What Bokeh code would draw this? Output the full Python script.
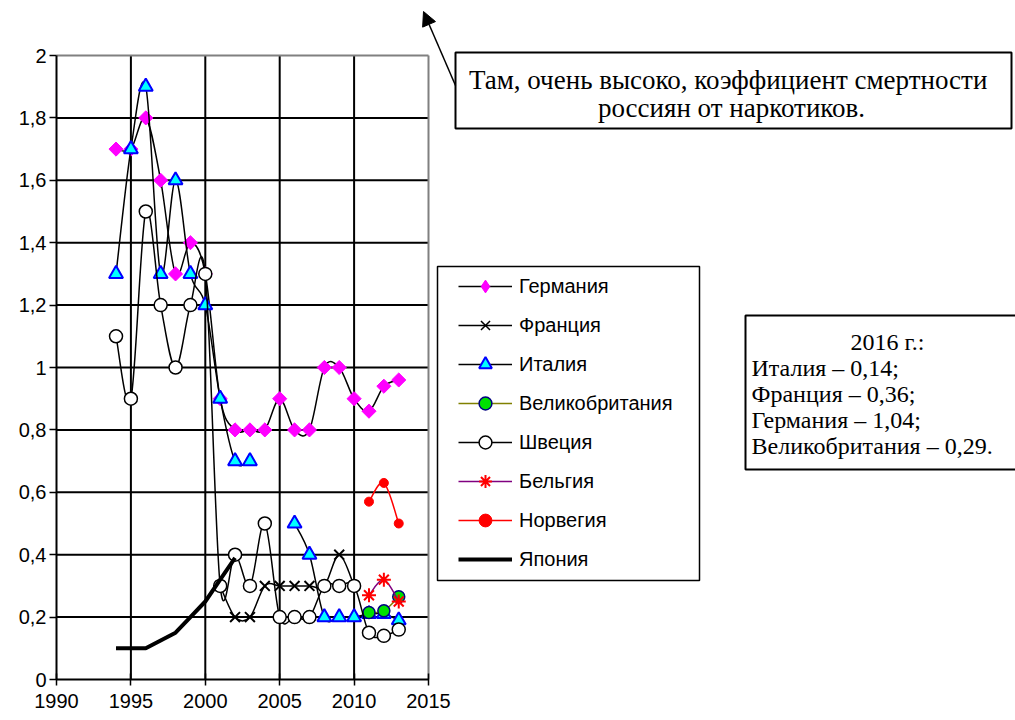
import numpy as np
from bokeh.plotting import figure
from bokeh.models import (Range1d, FixedTicker, CustomJSTickFormatter, Legend,
                          LegendItem, Label, Arrow, NormalHead)
from bokeh.embed import file_html
from bokeh.resources import INLINE

# ---------------- data ----------------
years = list(range(1994, 2014))
germany = [1.7, 1.7, 1.8, 1.6, 1.3, 1.4, 1.3, 0.9, 0.8, 0.8, 0.8, 0.9, 0.8, 0.8, 1.0, 1.0, 0.9, 0.86, 0.94, 0.96]
france = [None, None, None, None, None, None, None, 0.3, 0.2, 0.2, 0.3, 0.3, 0.3, 0.3, 0.3, 0.4, 0.3, None, None, None]
italy = [1.3, 1.7, 1.9, 1.3, 1.6, 1.3, 1.2, 0.9, 0.7, 0.7, None, None, 0.5, 0.4, 0.2, 0.2, 0.2, 0.21, 0.21, 0.19]
uk = [None] * 17 + [0.215, 0.22, 0.265]
sweden = [1.1, 0.9, 1.5, 1.2, 1.0, 1.2, 1.3, 0.3, 0.4, 0.3, 0.5, 0.2, 0.2, 0.2, 0.3, 0.3, 0.3, 0.15, 0.14, 0.16]
belgium = [None] * 17 + [0.27, 0.32, 0.25]
norway = [None] * 17 + [0.57, 0.63, 0.5]
japan = [0.1, 0.1, 0.1, 0.125, 0.15, 0.2, 0.25, 0.32, 0.39] + [None] * 11

series_names = ["Германия", "Франция", "Италия", "Великобритания",
                "Швеция", "Бельгия", "Норвегия", "Япония"]

x_ticks = [1990, 1995, 2000, 2005, 2010, 2015]
x_tick_labels = ["1990", "1995", "2000", "2005", "2010", "2015"]
y_ticks = [0, 0.2, 0.4, 0.6, 0.8, 1.0, 1.2, 1.4, 1.6, 1.8, 2.0]
y_tick_labels = ["0", "0,2", "0,4", "0,6", "0,8", "1", "1,2", "1,4", "1,6", "1,8", "2"]

note_lines = ["Там, очень высоко,  коэффициент смертности", "россиян от наркотиков."]
box_lines = ["2016 г.:", "Италия – 0,14;", "Франция – 0,36;", "Германия – 1,04;", "Великобритания – 0,29."]

# ---------------- layout (page pixels) ----------------
OFF = 0                  # canvas origin on the page
W, H = 1015, 718
PPX = 372 / 25.0         # pixels per year
PPY = 624 / 2.0          # pixels per unit
ORIG_X, ORIG_Y = 56, 679  # page position of (1990, 0)
FRAME_L, FRAME_R, FRAME_T, FRAME_B = 53, OFF + W, OFF, 681


def X(px):
    return x_ticks[0] + (px - ORIG_X) / PPX


def Y(py):
    return (ORIG_Y - py) / PPY


p = figure(width=W, height=H,
           x_range=Range1d(X(FRAME_L), X(FRAME_R)),
           y_range=Range1d(Y(FRAME_B), Y(FRAME_T)),
           output_backend="svg", toolbar_location=None,
           min_border_left=FRAME_L - OFF, min_border_right=0,
           min_border_top=FRAME_T - OFF, min_border_bottom=OFF + H - FRAME_B)
p.xgrid.visible = False
p.ygrid.visible = False
p.outline_line_color = None
p.background_fill_color = "white"
p.border_fill_color = "white"

fmt_code = """
const i = tv.findIndex(t => Math.abs(t - tick) < 1e-9); return i >= 0 ? tl[i] : '';"""
p.xaxis.ticker = FixedTicker(ticks=x_ticks)
p.xaxis.formatter = CustomJSTickFormatter(args=dict(tv=x_ticks, tl=x_tick_labels), code=fmt_code)
p.yaxis.ticker = FixedTicker(ticks=y_ticks)
p.yaxis.formatter = CustomJSTickFormatter(args=dict(tv=y_ticks, tl=y_tick_labels), code=fmt_code)
for ax in (p.xaxis, p.yaxis):
    ax.axis_line_color = None
    ax.minor_tick_line_color = None
    ax.major_tick_line_color = "black"
    ax.major_tick_line_width = 1.5
    ax.major_label_text_font = "Liberation Sans"
    ax.major_label_text_font_size = "20px"
    ax.major_label_text_color = "black"
p.xaxis.major_tick_in = 8
p.xaxis.major_tick_out = 4
p.xaxis.major_label_standoff = 8
p.yaxis.major_tick_in = 3
p.yaxis.major_tick_out = 4
p.yaxis.major_label_standoff = 3

# grid lines and plot-area border
hy = y_ticks[1:-1]
p.segment(x0=[x_ticks[0]] * len(hy), y0=hy, x1=[x_ticks[-1]] * len(hy), y1=hy,
          line_color="black", line_width=2)
vx = x_ticks[1:-1]
p.segment(x0=vx, y0=[y_ticks[0]] * len(vx), x1=vx, y1=[y_ticks[-1]] * len(vx),
          line_color="black", line_width=2)
p.segment(x0=[x_ticks[0], x_ticks[-1]], y0=[y_ticks[-1], y_ticks[0]],
          x1=[x_ticks[-1], x_ticks[-1]], y1=[y_ticks[-1], y_ticks[-1]],
          line_color="#808080", line_width=2)
p.segment(x0=[x_ticks[0], x_ticks[0]], y0=[y_ticks[0], y_ticks[0]],
          x1=[x_ticks[0], x_ticks[-1]], y1=[y_ticks[-1], y_ticks[0]],
          line_color="black", line_width=2)


def smooth(xs, ys):
    runs, cur = [], []
    for x, y in zip(xs, ys):
        if y is None:
            if cur:
                runs.append(cur)
            cur = []
        else:
            cur.append((x, y))
    if cur:
        runs.append(cur)
    out = {k: [] for k in ("x0", "y0", "x1", "y1", "cx0", "cy0", "cx1", "cy1")}
    for run in runs:
        n = len(run)
        for i in range(n - 1):
            p0 = run[i - 1] if i > 0 else run[i]
            p1, p2 = run[i], run[i + 1]
            p3 = run[i + 2] if i + 2 < n else run[i + 1]
            out["x0"].append(p1[0]); out["y0"].append(p1[1])
            out["x1"].append(p2[0]); out["y1"].append(p2[1])
            out["cx0"].append(p1[0] + (p2[0] - p0[0]) / 6.0)
            out["cy0"].append(p1[1] + (p2[1] - p0[1]) / 6.0)
            out["cx1"].append(p2[0] - (p3[0] - p1[0]) / 6.0)
            out["cy1"].append(p2[1] - (p3[1] - p1[1]) / 6.0)
    return out


def nan(v):
    return [np.nan if a is None else a for a in v]


styles = [
    (germany, dict(line_color="black", line_width=1.5),
     dict(marker="square", size=10, angle=np.pi / 4, fill_color="#FF00FF", line_color="#FF00FF"),
     dict(marker="diamond", size=14, fill_color="#FF00FF", line_color="#FF00FF")),
    (france, dict(line_color="black", line_width=1.5),
     dict(marker="x", size=14, line_color="black", line_width=2),
     dict(marker="x", line_color="black", line_width=1.5)),
    (italy, dict(line_color="black", line_width=1.5),
     dict(marker="triangle", size=14, fill_color="#00FFFF", line_color="#0000FF", line_width=2),
     dict(marker="triangle", fill_color="#00FFFF", line_color="#0000FF", line_width=2)),
    (uk, dict(line_color="#808000", line_width=1.5),
     dict(marker="circle", size=12, fill_color="#00E000", line_color="#000080", line_width=1.5),
     dict(marker="circle", fill_color="#00E000", line_color="#000080", line_width=1.5)),
    (sweden, dict(line_color="black", line_width=1.5),
     dict(marker="circle", size=13, fill_color="white", line_color="black", line_width=1.5),
     dict(marker="circle", fill_color="white", line_color="black", line_width=1.5)),
    (belgium, dict(line_color="#800080", line_width=1.5),
     dict(marker="asterisk", size=14, line_color="#FF0000", line_width=2),
     dict(marker="asterisk", line_color="#FF0000", line_width=2)),
    (norway, dict(line_color="#FF0000", line_width=1.5),
     dict(marker="circle", size=9, fill_color="#FF0000", line_color="#FF0000"),
     dict(marker="circle", fill_color="#FF0000", line_color="#FF0000")),
]

legend_items = []
for (vals, lstyle, mstyle, legm), name in zip(styles, series_names[:7]):
    seg = smooth(years, vals)
    p.bezier(**seg, **lstyle)
    p.scatter(x=years, y=nan(vals), **mstyle)
    lr = p.line(x=[np.nan], y=[np.nan], **lstyle)
    mr = p.scatter(x=[np.nan], y=[np.nan], **legm)
    legend_items.append(LegendItem(label=name, renderers=[lr, mr]))

jr = p.line(x=years, y=nan(japan), line_color="black", line_width=4)
jl = p.line(x=[np.nan], y=[np.nan], line_color="black", line_width=4)
legend_items.append(LegendItem(label=series_names[7], renderers=[jl]))

# legend frame
p.quad(left=[X(437)], right=[X(699)], top=[Y(266)], bottom=[Y(580)],
       fill_color="white", line_color="black", line_width=1.5)
legend = Legend(items=legend_items, location=(458 - FRAME_L, FRAME_B - 575),
                glyph_width=54, glyph_height=32, label_height=20, spacing=7,
                padding=0, margin=0, label_standoff=7, label_width=166,
                border_line_color=None, background_fill_alpha=0,
                label_text_font="Liberation Sans", label_text_font_size="20px",
                label_text_color="black")
p.add_layout(legend)

# top note with arrow
p.quad(left=[X(455)], right=[X(1011)], top=[Y(52)], bottom=[Y(128)],
       fill_color="white", line_color="black", line_width=2)
for txt, by in zip(note_lines, [79, 107]):
    p.add_layout(Label(x=X(731), y=Y(by), text=txt, text_align="center",
                       text_baseline="alphabetic", text_font="Liberation Serif",
                       text_font_size="27px", text_color="black"))
p.add_layout(Arrow(end=NormalHead(size=14, fill_color="black", line_color="black"),
                   x_start=X(455), y_start=Y(85), x_end=X(423), y_end=Y(11),
                   line_color="black", line_width=1.5))

# right box
p.quad(left=[X(745)], right=[X(1030)], top=[Y(315)], bottom=[Y(469)],
       fill_color="white", line_color="black", line_width=2)
for i, (txt, by) in enumerate(zip(box_lines, [341, 367, 393, 419, 445])):
    if i == 0:
        lab = Label(x=X(887), y=Y(by), text=txt, text_align="center")
    else:
        lab = Label(x=X(751), y=Y(by), text=txt, text_align="left")
    lab.text_baseline = "alphabetic"
    lab.text_font = "Liberation Serif"
    lab.text_font_size = "24px"
    lab.text_color = "black"
    p.add_layout(lab)

open("out.html", "w").write(file_html(p, INLINE))
